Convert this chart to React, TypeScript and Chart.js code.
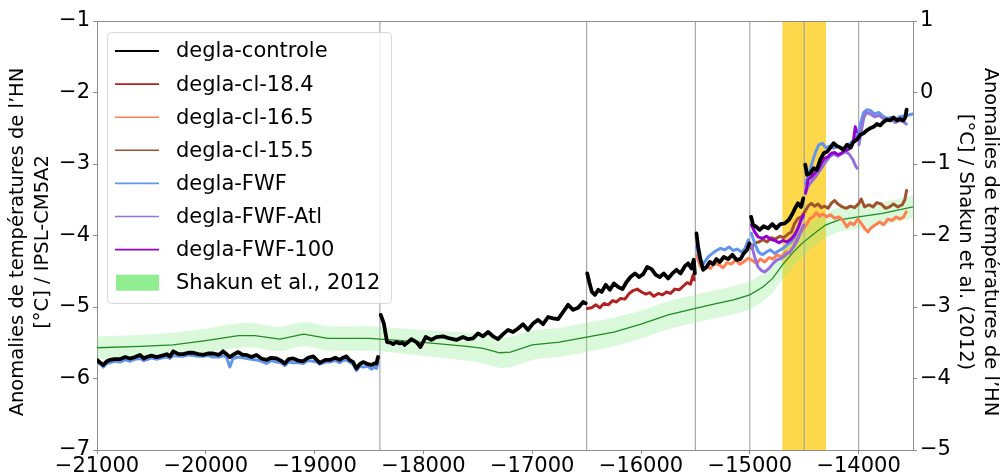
import React, { useEffect, useRef } from "react";
import { Chart, registerables } from "chart.js";

Chart.register(...registerables);

type Pt = [number, number | null];

// ---------- axis / annotation data ----------
const xTickValues = [-21000, -20000, -19000, -18000, -17000, -16000, -15000, -14000];
const leftTickValues = [-7, -6, -5, -4, -3, -2, -1];
const rightTickValues = [-5, -4, -3, -2, -1, 0, 1];
const eventYears = [-18400, -16500, -15500, -15000, -14500, -14000];
const meltwaterBand = [-14700, -14300];

const seriesNames = [
  "degla-controle",
  "degla-cl-18.4",
  "degla-cl-16.5",
  "degla-cl-15.5",
  "degla-FWF",
  "degla-FWF-Atl",
  "degla-FWF-100",
  "Shakun et al., 2012",
];

const leftTitle = ["Anomalies de températures de l\u2019HN", "[°C] / IPSL-CM5A2"];
const rightTitle = ["Anomalies de températures de l\u2019HN", "[°C] / Shakun et al. (2012)"];

// ---------- series (year, °C) ; null = break ----------
const deglaControle: Pt[] = [
  [-21000, -5.74], [-20970, -5.78], [-20942, -5.81], [-20910, -5.76], [-20881, -5.74], [-20840, -5.73],
  [-20789, -5.73], [-20740, -5.70], [-20697, -5.72], [-20650, -5.70], [-20605, -5.67], [-20570, -5.72],
  [-20544, -5.70], [-20500, -5.68], [-20452, -5.70], [-20400, -5.68], [-20360, -5.66], [-20330, -5.69],
  [-20299, -5.62], [-20250, -5.66], [-20207, -5.66], [-20160, -5.64], [-20115, -5.64], [-20070, -5.66],
  [-20024, -5.67], [-19980, -5.65], [-19932, -5.65], [-19880, -5.67], [-19840, -5.62], [-19810, -5.66],
  [-19779, -5.70], [-19740, -5.66], [-19702, -5.63], [-19660, -5.67], [-19626, -5.67], [-19580, -5.70],
  [-19534, -5.67], [-19490, -5.72], [-19442, -5.74], [-19400, -5.71], [-19350, -5.72], [-19310, -5.75],
  [-19274, -5.79], [-19240, -5.73], [-19197, -5.72], [-19150, -5.75], [-19105, -5.76], [-19060, -5.71],
  [-19013, -5.69], [-18980, -5.74], [-18952, -5.78], [-18900, -5.74], [-18860, -5.74], [-18810, -5.71],
  [-18769, -5.74], [-18740, -5.71], [-18707, -5.69], [-18680, -5.74], [-18646, -5.77], [-18616, -5.86],
  [-18585, -5.80], [-18554, -5.77], [-18510, -5.80], [-18478, -5.81], [-18450, -5.79], [-18432, -5.79],
  [-18417, -5.70], [-18410, null],
  [-18392, -5.11], [-18364, -5.23], [-18334, -5.49], [-18300, -5.50], [-18279, -5.52], [-18250, -5.49],
  [-18218, -5.51], [-18190, -5.50], [-18172, -5.53], [-18140, -5.49], [-18110, -5.45], [-18064, -5.49],
  [-18028, -5.56], [-17979, -5.42], [-17927, -5.46], [-17881, -5.42], [-17820, -5.41], [-17758, -5.44],
  [-17697, -5.46], [-17636, -5.42], [-17590, -5.45], [-17544, -5.44], [-17498, -5.37], [-17452, -5.41],
  [-17406, -5.35], [-17360, -5.41], [-17314, -5.45], [-17268, -5.38], [-17222, -5.32], [-17176, -5.35],
  [-17130, -5.30], [-17084, -5.24], [-17038, -5.32], [-16992, -5.23], [-16946, -5.18], [-16900, -5.24],
  [-16854, -5.14], [-16808, -5.16], [-16762, -5.17], [-16716, -5.07], [-16670, -4.97], [-16624, -5.04],
  [-16578, -5.01], [-16532, -4.93], [-16508, -4.95], [-16502, null],
  [-16494, -4.53], [-16476, -4.65], [-16451, -4.79], [-16424, -4.83], [-16393, -4.76], [-16362, -4.79],
  [-16323, -4.69], [-16286, -4.76], [-16249, -4.67], [-16209, -4.72], [-16170, -4.75], [-16133, -4.65],
  [-16096, -4.58], [-16056, -4.53], [-16017, -4.58], [-15980, -4.54], [-15943, -4.44], [-15903, -4.47],
  [-15864, -4.55], [-15827, -4.58], [-15790, -4.53], [-15750, -4.60], [-15711, -4.53], [-15674, -4.48],
  [-15637, -4.53], [-15597, -4.43], [-15567, -4.39], [-15536, -4.46], [-15515, -4.34], [-15505, -4.53],
  [-15500, null],
  [-15490, -3.97], [-15475, -4.16], [-15453, -4.34], [-15429, -4.48], [-15398, -4.44], [-15368, -4.37],
  [-15337, -4.40], [-15307, -4.33], [-15276, -4.37], [-15239, -4.30], [-15199, -4.33], [-15160, -4.27],
  [-15123, -4.34], [-15086, -4.33], [-15056, -4.25], [-15025, -4.20], [-15004, -4.11], [-15000, null],
  [-14988, -3.74], [-14970, -3.85], [-14939, -3.88], [-14909, -3.92], [-14872, -3.87], [-14832, -3.90],
  [-14793, -3.84], [-14756, -3.90], [-14719, -3.84], [-14679, -3.83], [-14640, -3.78], [-14609, -3.70],
  [-14584, -3.62], [-14557, -3.55], [-14529, -3.60], [-14508, -3.48], [-14500, null],
  [-14490, -3.01], [-14474, -3.15], [-14444, -3.13], [-14413, -3.06], [-14383, -3.08], [-14352, -2.94],
  [-14321, -2.85], [-14291, -2.83], [-14260, -2.77], [-14229, -2.71], [-14199, -2.75], [-14168, -2.77],
  [-14138, -2.80], [-14107, -2.73], [-14076, -2.77], [-14046, -2.69], [-14015, -2.66], [-13985, -2.59],
  [-13954, -2.57], [-13924, -2.53], [-13893, -2.50], [-13862, -2.48], [-13832, -2.44], [-13801, -2.46],
  [-13770, -2.41], [-13740, -2.38], [-13709, -2.39], [-13679, -2.35], [-13648, -2.39], [-13617, -2.37],
  [-13587, -2.39], [-13569, -2.34], [-13559, -2.24],
];

const deglaCl184: Pt[] = [
  [-16494, -5.02], [-16454, -5.01], [-16414, -4.97], [-16378, -5.01], [-16341, -4.95], [-16301, -4.97],
  [-16261, -4.91], [-16225, -4.93], [-16188, -4.88], [-16148, -4.89], [-16108, -4.81], [-16072, -4.77],
  [-16035, -4.75], [-15995, -4.79], [-15955, -4.82], [-15919, -4.80], [-15882, -4.85], [-15842, -4.81],
  [-15802, -4.83], [-15766, -4.79], [-15729, -4.81], [-15689, -4.75], [-15649, -4.76], [-15613, -4.71],
  [-15576, -4.66], [-15545, -4.68], [-15521, -4.55], [-15512, -4.62],
];

const deglaCl165: Pt[] = [
  [-15490, -4.27], [-15460, -4.41], [-15429, -4.48], [-15398, -4.43], [-15362, -4.46], [-15322, -4.39],
  [-15282, -4.41], [-15245, -4.45], [-15209, -4.38], [-15169, -4.40], [-15129, -4.34], [-15092, -4.40],
  [-15056, -4.37], [-15016, -4.32], [-14976, -4.35], [-14939, -4.39], [-14903, -4.33], [-14863, -4.37],
  [-14823, -4.31], [-14786, -4.33], [-14750, -4.27], [-14710, -4.30], [-14670, -4.23], [-14633, -4.24],
  [-14603, -4.16], [-14572, -4.06], [-14542, -3.97], [-14511, -3.92], [-14480, -3.85], [-14450, -3.77],
  [-14419, -3.74], [-14389, -3.68], [-14358, -3.73], [-14327, -3.70], [-14297, -3.74], [-14260, -3.71],
  [-14220, -3.76], [-14181, -3.74], [-14144, -3.79], [-14107, -3.88], [-14076, -3.82], [-14046, -3.85],
  [-14006, -3.77], [-13976, -3.83], [-13945, -3.90], [-13914, -3.95], [-13884, -3.89], [-13844, -3.85],
  [-13807, -3.81], [-13770, -3.85], [-13731, -3.77], [-13691, -3.79], [-13654, -3.74], [-13617, -3.77],
  [-13587, -3.74], [-13562, -3.67],
];

const deglaCl155: Pt[] = [
  [-14985, -4.18], [-14955, -4.10], [-14915, -4.09], [-14878, -4.06], [-14842, -4.09], [-14802, -4.03],
  [-14762, -4.05], [-14725, -4.01], [-14688, -4.03], [-14649, -3.98], [-14618, -3.95], [-14588, -3.83],
  [-14557, -3.76], [-14526, -3.74], [-14496, -3.67], [-14465, -3.59], [-14435, -3.55], [-14404, -3.59],
  [-14373, -3.56], [-14343, -3.61], [-14312, -3.59], [-14281, -3.62], [-14251, -3.55], [-14220, -3.51],
  [-14190, -3.56], [-14150, -3.60], [-14113, -3.62], [-14076, -3.59], [-14037, -3.61], [-13997, -3.55],
  [-13976, -3.49], [-13945, -3.60], [-13905, -3.57], [-13868, -3.60], [-13832, -3.54], [-13792, -3.56],
  [-13752, -3.62], [-13715, -3.60], [-13679, -3.56], [-13639, -3.60], [-13599, -3.57], [-13575, -3.50],
  [-13559, -3.37],
];

const deglaFWF: Pt[] = [
  [-21000, -5.77], [-20970, -5.80], [-20942, -5.84], [-20910, -5.79], [-20881, -5.78], [-20840, -5.76],
  [-20789, -5.77], [-20740, -5.74], [-20697, -5.76], [-20650, -5.73], [-20605, -5.72], [-20570, -5.75],
  [-20544, -5.74], [-20500, -5.71], [-20452, -5.73], [-20400, -5.71], [-20360, -5.70], [-20330, -5.72],
  [-20299, -5.68], [-20250, -5.69], [-20207, -5.69], [-20160, -5.67], [-20115, -5.68], [-20070, -5.69],
  [-20024, -5.69], [-19980, -5.68], [-19932, -5.70], [-19880, -5.70], [-19840, -5.68], [-19810, -5.70],
  [-19779, -5.84], [-19750, -5.72], [-19702, -5.70], [-19660, -5.71], [-19626, -5.72], [-19580, -5.73],
  [-19534, -5.74], [-19490, -5.76], [-19442, -5.79], [-19400, -5.75], [-19350, -5.77], [-19310, -5.78],
  [-19274, -5.82], [-19240, -5.77], [-19197, -5.78], [-19150, -5.78], [-19105, -5.79], [-19060, -5.75],
  [-19013, -5.76], [-18980, -5.77], [-18952, -5.80], [-18900, -5.77], [-18860, -5.77], [-18810, -5.75],
  [-18769, -5.78], [-18740, -5.75], [-18707, -5.74], [-18680, -5.77], [-18646, -5.80], [-18616, -5.89],
  [-18585, -5.83], [-18554, -5.84], [-18510, -5.83], [-18478, -5.87], [-18450, -5.84], [-18432, -5.86],
  [-18417, -5.78], [-18410, null],
  [-15490, -4.16], [-15460, -4.34], [-15423, -4.39], [-15383, -4.30], [-15343, -4.25], [-15307, -4.21],
  [-15270, -4.18], [-15230, -4.20], [-15190, -4.16], [-15154, -4.21], [-15117, -4.19], [-15077, -4.23],
  [-15044, -4.18], [-15013, -4.06], [-15000, null],
  [-14985, -3.97], [-14955, -4.11], [-14921, -4.23], [-14884, -4.27], [-14847, -4.23], [-14811, -4.20],
  [-14771, -4.25], [-14731, -4.21], [-14695, -4.18], [-14658, -4.13], [-14621, -4.09], [-14588, -4.02],
  [-14557, -3.90], [-14526, -3.78], [-14505, -3.74], [-14500, null],
  [-14487, -3.27], [-14456, -3.13], [-14425, -2.97], [-14395, -2.83], [-14364, -2.73], [-14333, -2.71],
  [-14303, -2.77], [-14266, -2.75], [-14229, -2.78], [-14190, -2.75], [-14150, -2.80], [-14113, -2.75],
  [-14076, -2.71], [-14037, -2.66], [-14006, -2.58], [-13982, -2.43], [-13954, -2.28], [-13924, -2.24],
  [-13893, -2.25], [-13853, -2.30], [-13813, -2.28], [-13777, -2.33], [-13740, -2.36], [-13700, -2.35],
  [-13660, -2.38], [-13624, -2.34], [-13587, -2.33], [-13547, -2.32], [-13507, -2.30],
];

const deglaFWFAtl: Pt[] = [
  [-14985, -4.13], [-14955, -4.30], [-14924, -4.44], [-14893, -4.49], [-14863, -4.51], [-14823, -4.46],
  [-14786, -4.39], [-14750, -4.34], [-14710, -4.32], [-14670, -4.27], [-14633, -4.23], [-14597, -4.16],
  [-14560, -4.06], [-14526, -3.92], [-14505, -3.85], [-14500, null],
  [-14487, -3.39], [-14456, -3.29], [-14419, -3.22], [-14383, -3.15], [-14343, -3.06], [-14303, -2.97],
  [-14266, -2.90], [-14229, -2.86], [-14190, -2.89], [-14150, -2.85], [-14113, -2.83], [-14082, -2.87],
  [-14052, -2.94], [-14027, -3.03], [-14012, -3.06], [-14004, null],
  [-13997, -2.73], [-13976, -2.55], [-13954, -2.36], [-13930, -2.28], [-13893, -2.30], [-13853, -2.34],
  [-13813, -2.32], [-13777, -2.36], [-13740, -2.39], [-13700, -2.38], [-13660, -2.42], [-13624, -2.39],
  [-13587, -2.41], [-13562, -2.44],
];

const deglaFWF100: Pt[] = [
  [-14985, -3.85], [-14955, -3.95], [-14924, -4.02], [-14884, -4.04], [-14847, -4.01], [-14811, -4.05],
  [-14771, -4.07], [-14731, -4.10], [-14695, -4.07], [-14658, -4.09], [-14621, -4.05], [-14588, -3.99],
  [-14557, -3.90], [-14526, -3.77], [-14505, -3.71], [-14500, null],
  [-14487, -3.41], [-14465, -3.22], [-14435, -3.18], [-14404, -3.13], [-14373, -3.08], [-14343, -2.99],
  [-14312, -2.92], [-14281, -2.90], [-14251, -2.85], [-14220, -2.84], [-14190, -2.87], [-14159, -2.85],
  [-14128, -2.81], [-14098, -2.80], [-14067, -2.77], [-14046, -2.66], [-14031, -2.48], [-14021, -2.55],
];

// Shakun et al. 2012 (right axis units)
const shakunYears = [
  -21000, -20600, -20300, -20000, -19700, -19550, -19320, -19100, -18880, -18500, -18200, -17900,
  -17600, -17450, -17300, -17200, -17000, -16750, -16500, -16250, -16000, -15750, -15500, -15300,
  -15150, -15000, -14880, -14790, -14700, -14610, -14520, -14390, -14300, -14180, -14000, -13780, -13500,
];
const shakunMean = [
  -3.57, -3.55, -3.53, -3.47, -3.40, -3.40, -3.45, -3.38, -3.44, -3.44, -3.47, -3.51,
  -3.55, -3.58, -3.64, -3.63, -3.53, -3.49, -3.42, -3.35, -3.24, -3.11, -3.02, -2.95,
  -2.90, -2.83, -2.72, -2.60, -2.41, -2.25, -2.11, -1.95, -1.85, -1.78, -1.74, -1.69, -1.60,
];
const shakunLow = [
  -3.73, -3.72, -3.70, -3.64, -3.57, -3.57, -3.62, -3.55, -3.61, -3.61, -3.65, -3.70,
  -3.75, -3.79, -3.85, -3.84, -3.74, -3.70, -3.63, -3.55, -3.44, -3.31, -3.22, -3.15,
  -3.10, -3.03, -2.92, -2.80, -2.61, -2.45, -2.30, -2.13, -2.03, -1.95, -1.90, -1.85, -1.76,
];
const shakunHigh = [
  -3.41, -3.39, -3.36, -3.30, -3.23, -3.23, -3.28, -3.21, -3.27, -3.27, -3.30, -3.33,
  -3.36, -3.38, -3.43, -3.42, -3.33, -3.29, -3.22, -3.15, -3.05, -2.92, -2.83, -2.76,
  -2.71, -2.64, -2.53, -2.41, -2.22, -2.06, -1.93, -1.77, -1.68, -1.61, -1.57, -1.53, -1.44,
];

// ---------- styles ----------
const FONT = "'DejaVu Sans', 'Liberation Sans', sans-serif";
const colors: Record<string, string> = {
  "degla-controle": "#000000",
  "degla-cl-18.4": "#B22222",
  "degla-cl-16.5": "#FF7F50",
  "degla-cl-15.5": "#A0522D",
  "degla-FWF": "#6495ED",
  "degla-FWF-Atl": "#9370DB",
  "degla-FWF-100": "#9400D3",
  "Shakun et al., 2012": "#90EE90",
};

const toXY = (pts: Pt[]) => pts.map(([x, y]) => ({ x, y }));
const fmt = (v: number | string) => String(v).replace("-", "\u2212");

export default function App() {
  const ref = useRef<HTMLCanvasElement | null>(null);

  useEffect(() => {
    document.body.style.margin = "0";
    const canvas = ref.current!;

    const line = (label: string, pts: Pt[], width: number, order: number) => ({
      label,
      data: toXY(pts),
      borderColor: colors[label],
      backgroundColor: colors[label],
      borderWidth: width,
      pointRadius: 0,
      tension: 0,
      fill: false,
      spanGaps: false,
      borderJoinStyle: "round" as const,
      borderCapStyle: "round" as const,
      yAxisID: "y",
      order,
    });

    const shakunPts = (vals: number[]) => shakunYears.map((x, i) => ({ x, y: vals[i] }));

    const overlay = {
      id: "overlay",
      beforeDatasetsDraw(chart: any) {
        const { ctx, chartArea: a, scales } = chart;
        const xs = scales.x;
        ctx.save();
        const b0 = xs.getPixelForValue(meltwaterBand[0]);
        const b1 = xs.getPixelForValue(meltwaterBand[1]);
        ctx.fillStyle = "#FDD84A";
        ctx.fillRect(b0, a.top, b1 - b0, a.bottom - a.top);
        ctx.strokeStyle = "#a8a8a8";
        ctx.lineWidth = 1.2;
        eventYears.forEach((v) => {
          const px = xs.getPixelForValue(v);
          ctx.beginPath();
          ctx.moveTo(px, a.top);
          ctx.lineTo(px, a.bottom);
          ctx.stroke();
        });
        ctx.restore();
      },
      afterDraw(chart: any) {
        const { ctx, chartArea: a } = chart;
        ctx.save();
        // top spine
        ctx.strokeStyle = "#8c8c8c";
        ctx.lineWidth = 1;
        ctx.beginPath();
        ctx.moveTo(a.left, a.top + 0.5);
        ctx.lineTo(a.right, a.top + 0.5);
        ctx.stroke();

        // axis titles
        ctx.fillStyle = "#000";
        ctx.font = `19.5px ${FONT}`;
        ctx.textAlign = "center";
        ctx.textBaseline = "middle";
        const cy = 242;
        [18, 43].forEach((x, i) => {
          ctx.save();
          ctx.translate(x, cy);
          ctx.rotate(-Math.PI / 2);
          ctx.fillText(leftTitle[i], 0, 0);
          ctx.restore();
        });
        [990, 965].forEach((x, i) => {
          ctx.save();
          ctx.translate(x, cy);
          ctx.rotate(Math.PI / 2);
          ctx.fillText(rightTitle[i], 0, 0);
          ctx.restore();
        });

        // legend
        const lx = 107.5, ly = 32.5, lw = 284, lh = 271, r = 4;
        ctx.beginPath();
        ctx.moveTo(lx + r, ly);
        ctx.lineTo(lx + lw - r, ly);
        ctx.quadraticCurveTo(lx + lw, ly, lx + lw, ly + r);
        ctx.lineTo(lx + lw, ly + lh - r);
        ctx.quadraticCurveTo(lx + lw, ly + lh, lx + lw - r, ly + lh);
        ctx.lineTo(lx + r, ly + lh);
        ctx.quadraticCurveTo(lx, ly + lh, lx, ly + lh - r);
        ctx.lineTo(lx, ly + r);
        ctx.quadraticCurveTo(lx, ly, lx + r, ly);
        ctx.closePath();
        ctx.fillStyle = "rgba(255,255,255,0.8)";
        ctx.fill();
        ctx.strokeStyle = "#d8d8d8";
        ctx.lineWidth = 1;
        ctx.stroke();

        ctx.font = `21px ${FONT}`;
        ctx.textAlign = "left";
        ctx.textBaseline = "middle";
        seriesNames.forEach((name, i) => {
          const y = 51 + i * 33.1;
          if (i === seriesNames.length - 1) {
            ctx.fillStyle = colors[name];
            ctx.fillRect(116, y - 8, 43, 16);
          } else {
            ctx.strokeStyle = colors[name];
            ctx.lineWidth = i === 0 ? 2.2 : 1.6;
            ctx.beginPath();
            ctx.moveTo(115, y);
            ctx.lineTo(159, y);
            ctx.stroke();
          }
          ctx.fillStyle = "#000";
          ctx.fillText(name, 176, y + 1);
        });
        ctx.restore();
      },
    };

    const tickFont = { family: FONT, size: 21 };
    const gridCfg = {
      display: true,
      drawOnChartArea: false,
      drawTicks: true,
      tickLength: 4,
      color: "#8c8c8c",
      lineWidth: 1,
    };

    const chart = new Chart(canvas, {
      type: "line",
      data: {
        datasets: [
          line("degla-controle", deglaControle, 3.8, 0),
          line("degla-FWF-100", deglaFWF100, 3, 1),
          line("degla-FWF-Atl", deglaFWFAtl, 3, 2),
          line("degla-FWF", deglaFWF, 3, 3),
          line("degla-cl-15.5", deglaCl155, 3, 4),
          line("degla-cl-16.5", deglaCl165, 3, 5),
          line("degla-cl-18.4", deglaCl184, 3, 6),
          {
            label: "shakun-mean",
            data: shakunPts(shakunMean),
            borderColor: "#228B22",
            borderWidth: 1.3,
            pointRadius: 0,
            tension: 0,
            fill: false,
            yAxisID: "y2",
            order: 7,
          },
          {
            label: "Shakun et al., 2012",
            data: shakunPts(shakunHigh),
            borderColor: "rgba(0,0,0,0)",
            borderWidth: 0,
            backgroundColor: "rgba(144,238,144,0.33)",
            pointRadius: 0,
            tension: 0.3,
            fill: "+1",
            yAxisID: "y2",
            order: 8,
          },
          {
            label: "shakun-low",
            data: shakunPts(shakunLow),
            borderColor: "rgba(0,0,0,0)",
            borderWidth: 0,
            pointRadius: 0,
            tension: 0.3,
            fill: false,
            yAxisID: "y2",
            order: 9,
          },
        ] as any,
      },
      options: {
        responsive: false,
        animation: false,
        devicePixelRatio: 1,
        layout: { padding: { top: 21, left: 0, right: 0, bottom: 0 } },
        plugins: { legend: { display: false }, tooltip: { enabled: false } },
        scales: {
          x: {
            type: "linear",
            min: -21000,
            max: -13500,
            afterBuildTicks: (s: any) => {
              s.ticks = xTickValues.map((value) => ({ value }));
            },
            afterFit: (s: any) => {
              s.height = 22;
            },
            ticks: {
              font: tickFont,
              color: "#000",
              padding: 0,
              maxRotation: 0,
              autoSkip: false,
              callback: (v: any) => fmt(v),
            },
            grid: gridCfg,
            border: { display: true, color: "#8c8c8c", width: 1 },
          },
          y: {
            type: "linear",
            position: "left",
            min: -7,
            max: -1,
            afterBuildTicks: (s: any) => {
              s.ticks = leftTickValues.map((value) => ({ value }));
            },
            afterFit: (s: any) => {
              s.width = 97;
            },
            ticks: { font: tickFont, color: "#000", padding: 3, callback: (v: any) => fmt(v) },
            grid: gridCfg,
            border: { display: true, color: "#8c8c8c", width: 1 },
          },
          y2: {
            type: "linear",
            position: "right",
            min: -5,
            max: 1,
            afterBuildTicks: (s: any) => {
              s.ticks = rightTickValues.map((value) => ({ value }));
            },
            afterFit: (s: any) => {
              s.width = 87;
            },
            ticks: { font: tickFont, color: "#000", padding: 3, callback: (v: any) => fmt(v) },
            grid: gridCfg,
            border: { display: true, color: "#8c8c8c", width: 1 },
          },
        },
      } as any,
      plugins: [overlay],
    });

    return () => chart.destroy();
  }, []);

  return (
    <div style={{ width: 1000, height: 472, overflow: "hidden" }}>
      <canvas ref={ref} width={1000} height={472} style={{ display: "block" }} />
    </div>
  );
}
